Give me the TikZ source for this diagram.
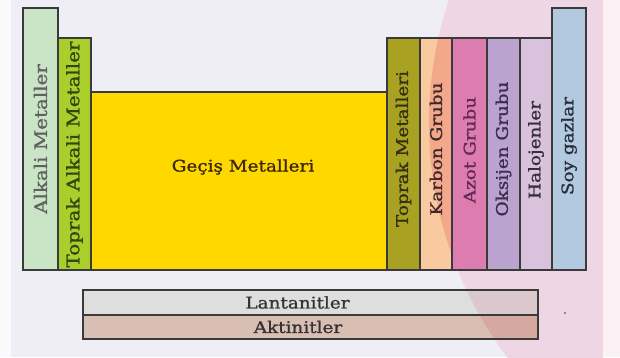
\documentclass[tikz,border=0pt]{standalone}
\usepackage{fontspec}
\setmainfont{DejaVu Serif}
\newfontfamily\lblfont[FakeStretch=1.15,FakeBold=1.2]{DejaVu Serif}
\definecolor{bgwhite}{HTML}{FAFAFD}
\definecolor{lav}{HTML}{EFEEF7}
\definecolor{pinkbg}{HTML}{EED6E4}
\definecolor{rstrip}{HTML}{FCF1F4}
\definecolor{edge}{HTML}{3A3A3A}
\definecolor{calk}{HTML}{C9E5C5}
\definecolor{ctal}{HTML}{AACE2C}
\definecolor{cgec}{HTML}{FFD800}
\definecolor{ctm}{HTML}{A9A122}
\definecolor{ckar}{HTML}{F9C9A0}
\definecolor{ckarb}{HTML}{F3A88C}
\definecolor{cazo}{HTML}{DD7DAF}
\definecolor{coks}{HTML}{BBA3CF}
\definecolor{chal}{HTML}{D8C2DC}
\definecolor{csoy}{HTML}{B3C9E0}
\definecolor{clan}{HTML}{DEDEDE}
\definecolor{clanb}{HTML}{DCC8CC}
\definecolor{cakt}{HTML}{D9BFB3}
\definecolor{caktb}{HTML}{D5A9A0}
\begin{document}
\begin{tikzpicture}[x=1pt,y=-1pt,
  box/.style={draw=edge,line width=1.2pt,inner sep=0pt,outer sep=0pt},
  vbox/.style={box,rotate=90},
  lbl/.style={inner sep=0pt,font=\lblfont\fontsize{16}{16}\selectfont,text=black!80},
  vlbl/.style={inner sep=0pt,rotate=90,font=\lblfont\fontsize{16}{16}\selectfont},
  vlblL/.style={inner sep=0pt,rotate=90,font=\lblfont\fontsize{17.3}{17.3}\selectfont}]
\useasboundingbox (0,0) rectangle (620,357);
\fill[bgwhite] (0,0) rectangle (620,357);
\fill[lav] (11,0) rectangle (603,357);
\begin{scope}
  \clip (11,0) rectangle (603,357);
  \fill[pinkbg] (819,123) circle (390);
\end{scope}
\fill[rstrip] (603,0) rectangle (620,357);
% boxes
\node[vbox,fill=calk,minimum width=262pt,minimum height=35pt] (alk) at (40.5,139) {};
\node[vbox,fill=ctal,minimum width=232pt,minimum height=33pt] (tal) at (74.5,154) {};
\node[box,fill=cgec,minimum width=296pt,minimum height=178pt] (gec) at (239,181) {};
\node[vbox,fill=ctm,minimum width=232pt,minimum height=33pt] (tm) at (403.5,154) {};
\node[vbox,fill=ckar,minimum width=232pt,minimum height=32pt] (kar) at (436,154) {};
\node[vbox,fill=cazo,minimum width=232pt,minimum height=35pt] (azo) at (469.5,154) {};
\node[vbox,fill=coks,minimum width=232pt,minimum height=33pt] (oks) at (503.5,154) {};
\node[vbox,fill=chal,minimum width=232pt,minimum height=32pt] (hal) at (536,154) {};
\node[vbox,fill=csoy,minimum width=262pt,minimum height=34pt] (soy) at (569,139) {};
\node[box,fill=clan,minimum width=455pt,minimum height=25pt] (lan) at (310.5,302.5) {};
\node[box,fill=cakt,minimum width=455pt,minimum height=24pt] (akt) at (310.5,327) {};
% pink tint on split boxes
\begin{scope}
  \clip (kar.south west) rectangle (kar.north east);
  \fill[ckarb] (819,123) circle (390);
\end{scope}
\begin{scope}
  \clip (lan.south west) rectangle (lan.north east);
  \fill[clanb] (819,123) circle (390);
\end{scope}
\begin{scope}
  \clip (akt.south west) rectangle (akt.north east);
  \fill[caktb] (819,123) circle (390);
\end{scope}
\draw[edge,line width=1.2pt] (kar.south west) rectangle (kar.north east);
\draw[edge,line width=1.2pt] (lan.south west) rectangle (lan.north east);
\draw[edge,line width=1.2pt] (akt.south west) rectangle (akt.north east);
% labels
\node[vlblL,text=black!62] (alkl) at (alk.center) {Alkali Metaller};
\node[vlblL,text={rgb,255:red,50;green,70;blue,15}] (tall) at (74.5,154.5) {Toprak Alkali Metaller};
\node[lbl,text={rgb,255:red,60;green,40;blue,10}] (gecl) at (243,167) {Geçiş Metalleri};
\node[vlbl,text={rgb,255:red,50;green,48;blue,15}] (tml) at (403.5,149) {Toprak Metalleri};
\node[vlbl,text={rgb,255:red,60;green,40;blue,40}] (karl) at (436,149) {Karbon Grubu};
\node[vlbl,text={rgb,255:red,100;green,40;blue,90}] (azol) at (469.5,150) {Azot Grubu};
\node[vlbl,text={rgb,255:red,60;green,45;blue,80}] (oksl) at (503.5,149) {Oksijen Grubu};
\node[vlbl,text={rgb,255:red,55;green,45;blue,65}] (hall) at (536,150) {Halojenler};
\node[vlbl,text={rgb,255:red,40;green,45;blue,60}] (soyl) at (569,146) {Soy gazlar};
\node[lbl] (lanl) at (297.5,302.5) {Lantanitler};
\node[lbl] (aktl) at (298,327) {Aktinitler};
\fill[black!80] (565,313) circle (0.9);
\end{tikzpicture}
\end{document}
